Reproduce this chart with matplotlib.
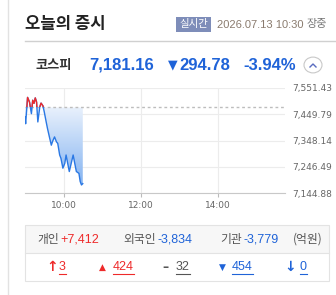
import numpy as np
import matplotlib.pyplot as plt
from matplotlib.patches import Rectangle, Circle, Polygon
from matplotlib.lines import Line2D
from matplotlib.colors import LinearSegmentedColormap

plt.rcParams['font.family'] = ['Noto Sans CJK KR', 'DejaVu Sans']

W, H = 336, 295

# 장중 지수 (9:00 부터 경과 분)
minutes = [0, 1, 4, 7, 10, 12, 14, 16, 18, 20, 23, 25, 28, 30, 33, 35, 38, 41, 43,
           46, 49, 51, 54, 56, 59, 62, 64, 67, 69, 72, 75, 77, 80, 84, 86, 88, 90]
index = [7440, 7413, 7515, 7497, 7452, 7504, 7492, 7513, 7497, 7420, 7478, 7493, 7482,
         7459, 7420, 7395, 7362, 7330, 7345, 7362, 7343, 7337, 7292, 7279, 7241, 7260,
         7292, 7253, 7228, 7260, 7292, 7266, 7228, 7221, 7189, 7176, 7181.16]
prev_close = 7475.94
ytick_vals = [7144.88, 7246.49, 7348.14, 7449.79, 7551.43]
xtick_min = [60, 180, 300]
xtick_lab = ['10:00', '12:00', '14:00']

investors = ['개인', '외국인', '기관']
inv_vals = ['+7,412', '-3,834', '-3,779']
counts = ['3', '424', '32', '454', '0']

RED = '#ee2a2a'
BLUE = '#1f63d8'
NUM = 'Liberation Sans'


def P(x, y):
    return (x / W, 1 - y / H)


fig = plt.figure(figsize=(W / 100, H / 100), dpi=100)
fig.patch.set_facecolor('white')

# left border
fig.add_artist(Line2D([8 / W, 8 / W], [0, 1], color='#e2e2e2', lw=1, transform=fig.transFigure))

# header
fig.text(*P(25, 24), '오늘의 증시', fontsize=12, fontweight='bold', color='#222', va='center')
fig.add_artist(Rectangle(P(176, 32), 35 / W, 15 / H, facecolor='#7e8db9', edgecolor='none',
                         transform=fig.transFigure))
fig.text(*P(193.5, 24.5), '실시간', fontsize=7.5, color='white', ha='center', va='center')
fig.text(*P(217, 24.5), '2026.07.13 10:30', fontsize=8, color='#8a7b6e', va='center',
         family=NUM)
fig.text(*P(307, 24.5), '장중', fontsize=8, color='#777', va='center')
fig.add_artist(Line2D([25 / W, 1], [1 - 40.7 / H] * 2, color='#d0d0d0', lw=1,
                      transform=fig.transFigure))

# index row
fig.text(*P(36, 65), '코스피', fontsize=9.5, fontweight='bold', color='#333', va='center')
fig.text(*P(89, 65), '7,181.16', fontsize=12, fontweight='bold', color=BLUE, va='center',
         family=NUM)
fig.text(*P(168, 65), '▼', fontsize=9, color=BLUE, va='center', family='DejaVu Sans')
fig.text(*P(179, 65), '294.78', fontsize=12, fontweight='bold', color=BLUE, va='center',
         family=NUM)
fig.text(*P(243, 65), '-3.94%', fontsize=12, fontweight='bold', color=BLUE, va='center',
         family=NUM)
fig.add_artist(Circle(P(313, 65), 9 / W, facecolor='white', edgecolor='#c8c8c8', lw=0.8,
                      transform=fig.transFigure))
cx = [310 / W, 313 / W, 316 / W]
cy = [1 - 67 / H, 1 - 64 / H, 1 - 67 / H]
fig.add_artist(Line2D(cx, cy, color='#5a6cc0', lw=1, transform=fig.transFigure))

# chart
ax = fig.add_axes([25 / W, 1 - 193 / H, 260 / W, 105 / H])
x = np.array(minutes, float)
y = np.array(index, float)

yb = np.minimum(y, prev_close)
grad = np.linspace(0, 1, 256).reshape(-1, 1)
cmap = LinearSegmentedColormap.from_list('g', ['#78acf0', '#e9f1fc'])
img = ax.imshow(grad, extent=[0, 90, ytick_vals[0], prev_close], origin='lower', cmap=cmap,
                aspect='auto', zorder=1)
verts = np.vstack([np.column_stack([x, yb]), [[90, prev_close], [0, prev_close]]])
clip = Polygon(verts, transform=ax.transData, facecolor='none', edgecolor='none')
ax.add_patch(clip)
img.set_clip_path(clip)

ax.axhline(prev_close, color='#bdbdbd', lw=1, ls=(0, (2, 2)), zorder=2)
ax.plot(x, y, color='#2a78e4', lw=1.0, zorder=3)
red, = ax.plot(x, y, color=RED, lw=1.0, zorder=4)
red.set_clip_path(Rectangle((0, prev_close), 405, 200, transform=ax.transData))

ax.set_xlim(0, 405)
ax.set_ylim(ytick_vals[0], ytick_vals[-1])
ax.set_yticks(ytick_vals)
ax.set_yticklabels([f'{v:,.2f}' for v in ytick_vals])
ax.set_xticks(xtick_min)
ax.set_xticklabels(xtick_lab)
ax.yaxis.tick_right()
ax.tick_params(axis='y', length=0, pad=5, labelsize=6.5, labelcolor='#666')
ax.tick_params(axis='x', length=3, color='#bbb', pad=3, labelsize=6.5, labelcolor='#666')
for lab in ax.get_xticklabels() + ax.get_yticklabels():
    lab.set_family('DejaVu Sans')
ax.grid(True, color='#ececec', lw=0.8)
ax.set_axisbelow(True)
for s in ['top', 'left', 'right']:
    ax.spines[s].set_visible(False)
ax.spines['bottom'].set_color('#c8c8c8')
ax.patch.set_alpha(0)

# bottom box
fig.add_artist(Rectangle(P(25, 253), 304 / W, 28 / H, facecolor='#f7f7f7', edgecolor='none',
                         transform=fig.transFigure))
fig.add_artist(Rectangle(P(25, 281), 304 / W, 56 / H, facecolor='none', edgecolor='#e3e3e3',
                         lw=0.8, transform=fig.transFigure))
fig.add_artist(Line2D([25 / W, 329 / W], [1 - 253 / H] * 2, color='#e3e3e3', lw=0.8,
                      transform=fig.transFigure))

inv_x = [37, 123, 220]
val_x = [60, 157, 243]
for name, v, xn, xv in zip(investors, inv_vals, inv_x, val_x):
    fig.text(*P(xn, 239), name, fontsize=8.5, color='#555', va='center')
    fig.text(*P(xv, 239), v, fontsize=9, color=RED if v.startswith('+') else BLUE,
             va='center', family=NUM)
fig.text(*P(293, 239), '(억원)', fontsize=8.5, color='#555', va='center')

sym = ['↑', '▲', '–', '▼', '↓']
sym_x = [46, 99, 162, 219, 284]
cnt_x = [59, 113, 176, 232, 300]
cols = [RED, RED, '#555', BLUE, BLUE]
sym_size = [10, 6.5, 9, 6.5, 10]
under = []
for s, c, xs, xc, col, fs in zip(sym, counts, sym_x, cnt_x, cols, sym_size):
    fig.text(*P(xs, 267), s, fontsize=fs, color=col, va='center', fontweight='bold',
             family='DejaVu Sans')
    t = fig.text(*P(xc, 267), c, fontsize=9, color=col, va='center', family=NUM)
    under.append(t)

fig.canvas.draw()
r = fig.canvas.get_renderer()
for t in under:
    bb = t.get_window_extent(r).transformed(fig.transFigure.inverted())
    fig.add_artist(Line2D([bb.x0, bb.x1], [1 - 274 / H] * 2, color=t.get_color(), lw=0.8,
                          transform=fig.transFigure))

fig.savefig('out.png', dpi=100)
